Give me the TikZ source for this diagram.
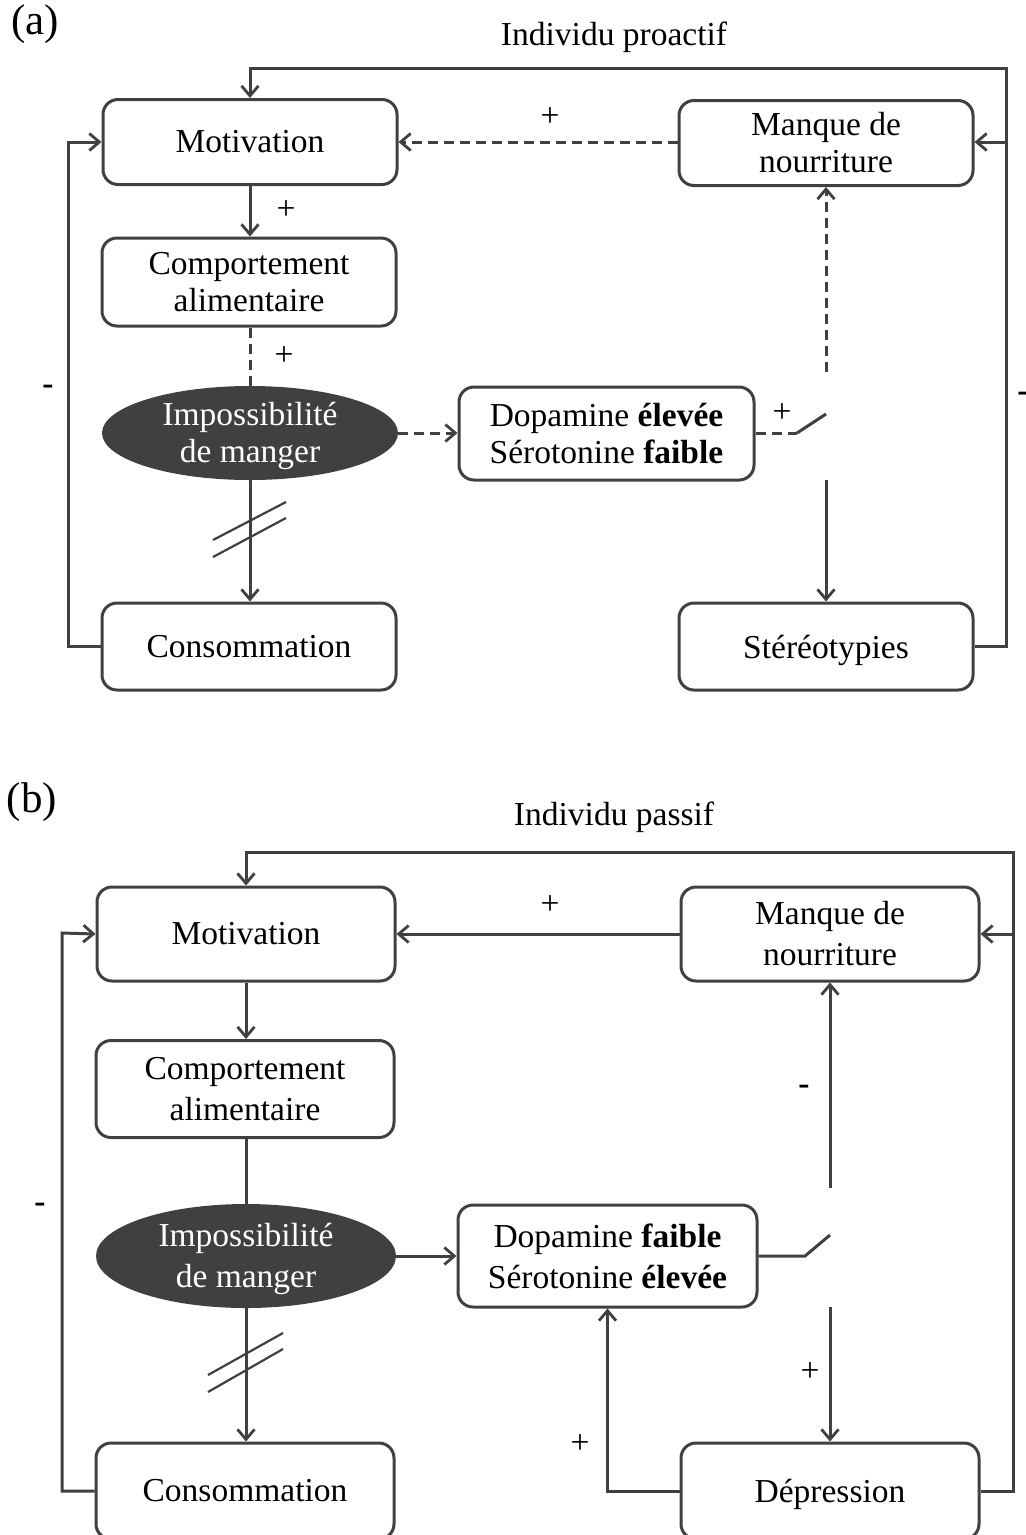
\documentclass[tikz,border=0pt]{standalone}
\usepackage{fontspec}
\setmainfont{Liberation Serif}
\usetikzlibrary{arrows.meta,shapes.geometric}
\definecolor{ln}{HTML}{404040}
\begin{document}
\begin{tikzpicture}[x=1pt,y=-1pt,
  every node/.style={font=\fontsize{33.5}{37}\selectfont, text=black},
  boxa/.style={draw=ln, line width=3pt, rounded corners=15pt, rectangle, inner sep=0pt, align=center},
  elli/.style={ellipse, fill=ln, draw=none, inner sep=0pt},
  ellt/.style={text=white, align=center},
  conn/.style={draw=ln, line width=3pt},
  arr/.style={conn, -{Straight Barb[length=10pt,width=17pt,line width=2.8pt]}},
  dsh/.style={dash pattern=on 10pt off 6pt},
  sl/.style={draw=ln, line width=2.2pt},
  sgn/.style={font=\fontsize{33.5}{37}\selectfont},
  neg/.style={font=\fontsize{33.5}{37}\selectfont\bfseries},
  ttl/.style={font=\fontsize{43}{46}\selectfont},
  lineb/.style={font=\fontsize{33.5}{41}\selectfont},
  nodep/.style={text depth=0pt}
]
\useasboundingbox (0,0) rectangle (1026,1535);
\begin{scope}
\clip (0,0) rectangle (1026,1535);

% ---------------- Panel (a) ----------------
\node[ttl] (labA) at (35,24) {(a)};
\node (titA) at (614,37) {Individu proactif};

\node[boxa, minimum width=294pt, minimum height=85pt] (motA) at (250,142) {Motivation};
\node[boxa, minimum width=294pt, minimum height=85pt] (manA) at (826,143) {Manque de\\nourriture};
\node[boxa, minimum width=294pt, minimum height=88pt] (compA) at (249,282) {Comportement\\alimentaire};
\node[elli, minimum width=296pt, minimum height=94pt] (impA) at (250,433) {};
\node[ellt] (impAt) at (250,436) {Impossibilité\\de manger};
\node[boxa, minimum width=295pt, minimum height=93pt] (dopA) at (606.5,433.5) {Dopamine \textbf{élevée}\\Sérotonine \textbf{faible}};
\node[boxa, nodep, minimum width=294pt, minimum height=87pt] (stA) at (826,646.5) {Stéréotypies};
\node[boxa, minimum width=294pt, minimum height=87pt] (consA) at (249,646.5) {Consommation};

\coordinate (trA) at (1006,68);
\coordinate (rbA) at (1006,142);
\coordinate (lfA) at (68,142);
\coordinate (swA1) at (797,433);
\coordinate (swA2) at (826,414);
\coordinate (upA) at (826,372);
\coordinate (dnA) at (826,480);

\draw[arr] (stA.east) -| (trA) -| (motA.north);
\draw[arr] (rbA) -- (manA.east |- rbA);
\draw[arr, dsh] (manA.west |- motA.east) -- (motA.east);
\draw[arr] (motA.south) -- (compA.north -| motA.south);
\draw[conn, dsh] (compA.south -| impA.north) -- (impA.north);
\draw[arr, dsh] (impA.east) -- (dopA.west |- impA.east);
\draw[conn, dsh] (dopA.east |- swA1) -- (swA1);
\draw[conn] (swA1) -- (swA2);
\draw[arr, dsh] (upA) -- (manA.south);
\draw[arr] (dnA) -- (stA.north);
\draw[arr] (impA.south) -- (consA.north -| impA.south);
\draw[arr] (consA.west) -| (lfA) -- (motA.west);
\draw[sl] (213,540) -- (286,502);
\draw[sl] (213,557) -- (286,518);

\node[sgn] (pA1) at (550,117) {+};
\node[sgn] (pA2) at (286,210) {+};
\node[sgn] (pA3) at (284,356) {+};
\node[sgn] (pA4) at (782,413) {+};
\node[neg] (mA1) at (48,390) {-};
\node[neg] (mA2) at (1023,397) {-};

% ---------------- Panel (b) ----------------
\node[ttl] (labB) at (32,802) {(b)};
\node (titB) at (614,817) {Individu passif};

\node[boxa, lineb, minimum width=298pt, minimum height=94pt] (motB) at (246,934) {Motivation};
\node[boxa, lineb, minimum width=298pt, minimum height=94pt] (manB) at (830,934) {Manque de\\nourriture};
\node[boxa, lineb, minimum width=298pt, minimum height=97pt] (compB) at (245,1089) {Comportement\\alimentaire};
\node[elli, minimum width=300pt, minimum height=104pt] (impB) at (246,1256) {};
\node[ellt, lineb] (impBt) at (246,1259) {Impossibilité\\de manger};
\node[boxa, lineb, minimum width=299pt, minimum height=102pt] (dopB) at (607.5,1256) {Dopamine \textbf{faible}\\Sérotonine \textbf{élevée}};
\node[boxa, lineb, nodep, minimum width=298pt, minimum height=96pt] (depB) at (830,1491) {Dépression};
\node[boxa, lineb, minimum width=298pt, minimum height=96pt] (consB) at (245,1491) {Consommation};

\coordinate (trB) at (1013,852);
\coordinate (rbB) at (1013,934);
\coordinate (lfB) at (62,933);
\coordinate (swB1) at (805,1256);
\coordinate (swB2) at (830,1235);
\coordinate (upB) at (830,1188);
\coordinate (dnB) at (830,1307);

\draw[arr] (depB.east) -| (trB) -| (motB.north);
\draw[arr] (rbB) -- (manB.east |- rbB);
\draw[arr] (manB.west) -- (motB.east);
\draw[arr] (motB.south) -- (compB.north -| motB.south);
\draw[conn] (compB.south -| impB.north) -- (impB.north);
\draw[arr] (impB.east) -- (dopB.west);
\draw[conn] (dopB.east) -- (swB1) -- (swB2);
\draw[arr] (upB) -- (manB.south);
\draw[arr] (dnB) -- (depB.north);
\draw[arr] (depB.west) -| (dopB.south);
\draw[arr] (impB.south) -- (consB.north -| impB.south);
\draw[arr] (consB.west) -| (lfB) -- (motB.west);
\draw[sl] (208,1375) -- (283,1333);
\draw[sl] (208,1392) -- (283,1349);

\node[sgn] (pB1) at (550,905) {+};
\node[sgn] (pB2) at (810,1372) {+};
\node[sgn] (pB3) at (580,1444) {+};
\node[neg] (mB1) at (804,1090) {-};
\node[neg] (mB2) at (40,1208) {-};
\end{scope}
\end{tikzpicture}
\end{document}
